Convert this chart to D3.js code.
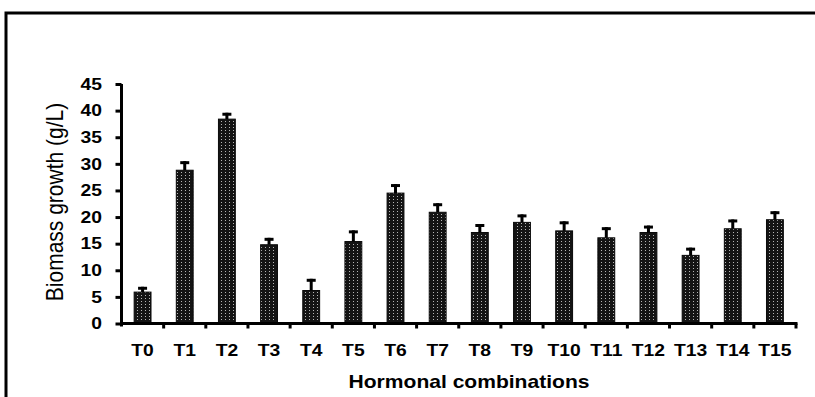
<!DOCTYPE html>
<html>
<head>
<meta charset="utf-8">
<script src="https://cdn.jsdelivr.net/npm/d3@7"></script>
<style>
  body { margin: 0; background: #fff; }
  svg { display: block; font-family: "Liberation Sans", Arial, sans-serif; }
</style>
</head>
<body>
<div id="chart"></div>
<script>
// treatments and measured biomass (g/L) with standard error
var categories = ["T0", "T1", "T2", "T3", "T4", "T5", "T6", "T7", "T8", "T9", "T10", "T11", "T12", "T13", "T14", "T15"];
var biomass = [5.9, 28.8, 38.4, 14.8, 6.2, 15.4, 24.5, 20.9, 17.1, 19.0, 17.4, 16.1, 17.1, 12.8, 17.8, 19.5];
var errors = [1.0, 1.7, 1.2, 1.3, 2.2, 2.1, 1.7, 1.7, 1.6, 1.5, 1.8, 2.0, 1.3, 1.45, 1.75, 1.6];
var yTicks = [0, 5, 10, 15, 20, 25, 30, 35, 40, 45];

var width = 815, height = 397;
var plotLeft = 121.5, plotRight = 796, plotTop = 84, plotBottom = 323.5;
var sx = 1.17; // the original picture is stretched sideways

var svg = d3.select('#chart')
  .append('svg')
  .attr('width', width)
  .attr('height', height);

// dotted fill of the bars
var pat = svg.append('defs').append('pattern')
  .attr('id', 'dots')
  .attr('patternUnits', 'userSpaceOnUse')
  .attr('width', 4)
  .attr('height', 3);
pat.append('rect').attr('width', 4).attr('height', 3).attr('fill', '#141414');
pat.append('rect').attr('x', 1).attr('y', 1).attr('width', 1).attr('height', 1).attr('fill', '#b5b5b5');

// frame, only top and left sides are in view
svg.append('rect')
  .attr('x', 6).attr('y', 13)
  .attr('width', 900).attr('height', 500)
  .attr('fill', 'none')
  .attr('stroke', '#000')
  .attr('stroke-width', 3);

var x = d3.scaleBand()
  .domain(categories)
  .range([plotLeft, plotRight])
  .paddingInner(0.6)
  .paddingOuter(0.3);

var y = d3.scaleLinear()
  .domain([0, 45])
  .range([plotBottom, plotTop]);

// bars
svg.selectAll('rect.bar')
  .data(biomass)
  .enter()
  .append('rect')
  .attr('class', 'bar')
  .attr('x', function(d, i) { return x(categories[i]); })
  .attr('y', function(d) { return y(d); })
  .attr('width', x.bandwidth())
  .attr('height', function(d) { return y(0) - y(d); })
  .attr('fill', 'url(#dots)')
  .attr('stroke', '#0a0a0a')
  .attr('stroke-width', 1);

// error bars (upper half only)
var err = svg.append('g');
err.selectAll('line.stem')
  .data(biomass)
  .enter()
  .append('line')
  .attr('class', 'stem')
  .attr('x1', function(d, i) { return x(categories[i]) + x.bandwidth() / 2; })
  .attr('x2', function(d, i) { return x(categories[i]) + x.bandwidth() / 2; })
  .attr('y1', function(d) { return y(d); })
  .attr('y2', function(d, i) { return y(d + errors[i]); })
  .attr('stroke', '#000')
  .attr('stroke-width', 3);
err.selectAll('line.cap')
  .data(biomass)
  .enter()
  .append('line')
  .attr('class', 'cap')
  .attr('x1', function(d, i) { return x(categories[i]) + x.bandwidth() / 2 - 4.5; })
  .attr('x2', function(d, i) { return x(categories[i]) + x.bandwidth() / 2 + 4.5; })
  .attr('y1', function(d, i) { return y(d + errors[i]) + 1.5; })
  .attr('y2', function(d, i) { return y(d + errors[i]) + 1.5; })
  .attr('stroke', '#000')
  .attr('stroke-width', 3);

// y axis
var yAxis = svg.append('g')
  .attr('transform', 'translate(' + plotLeft + ',0)')
  .call(d3.axisLeft(y).tickValues(yTicks).tickSize(6).tickSizeOuter(0).tickPadding(0));
yAxis.select('.domain').attr('stroke-width', 3).attr('d', 'M0,' + plotTop + 'V' + (plotBottom + 3));
yAxis.selectAll('.tick line').attr('stroke-width', 3);
yAxis.selectAll('.tick text')
  .attr('x', null)
  .attr('transform', 'translate(-19.5,0) scale(' + sx + ',1)')
  .style('font-size', '16.5px')
  .style('font-weight', 'bold')
  .attr('fill', '#000');

// x axis: labels at band centres, ticks on the band edges
var xAxis = svg.append('g')
  .attr('transform', 'translate(0,' + plotBottom + ')')
  .call(d3.axisBottom(x).tickSize(0).tickPadding(20.5));
xAxis.select('.domain').attr('stroke-width', 3).attr('d', 'M' + (plotLeft - 1.5) + ',0H' + (plotRight + 1.5));
xAxis.selectAll('.tick text')
  .attr('transform', 'scale(' + sx + ',1)')
  .attr('x', 0)
  .style('font-size', '16.5px')
  .style('font-weight', 'bold')
  .attr('fill', '#000');

xAxis.selectAll('line.edge')
  .data(categories)
  .enter()
  .append('line')
  .attr('class', 'edge')
  .attr('x1', function(d) { return x(d) + x.bandwidth() + (x.step() - x.bandwidth()) / 2; })
  .attr('x2', function(d) { return x(d) + x.bandwidth() + (x.step() - x.bandwidth()) / 2; })
  .attr('y1', 0)
  .attr('y2', 5)
  .attr('stroke', '#000')
  .attr('stroke-width', 3);

// axis titles
svg.append('text')
  .attr('transform', 'translate(469,388) scale(' + sx + ',1)')
  .attr('text-anchor', 'middle')
  .style('font-size', '18px')
  .style('font-weight', 'bold')
  .text('Hormonal combinations');

svg.append('text')
  .attr('transform', 'translate(63,202) scale(' + sx + ',1) rotate(-90)')
  .attr('text-anchor', 'middle')
  .style('font-size', '21px')
  .text('Biomass growth (g/L)');
</script>
</body>
</html>
